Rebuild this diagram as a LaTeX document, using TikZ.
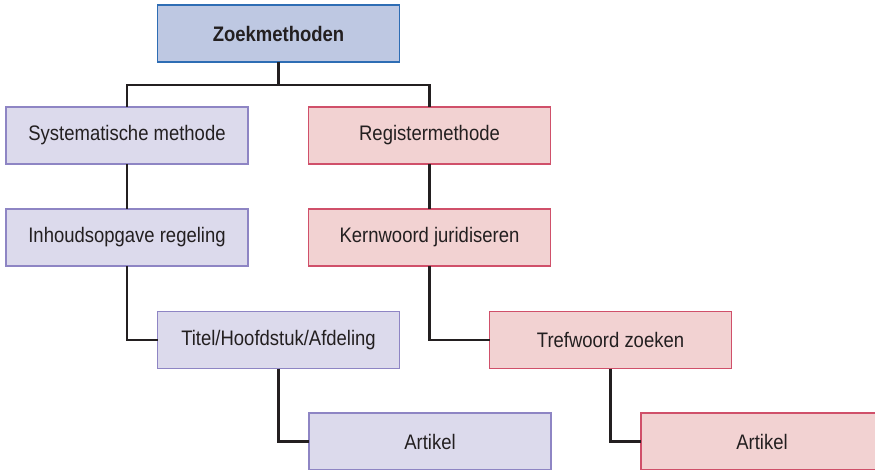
\documentclass[tikz,border=0pt]{standalone}
\usepackage{fontspec}
\setmainfont[FakeStretch=0.88]{Liberation Sans}
\usetikzlibrary{positioning}

\definecolor{inkGrey}{HTML}{231F20}
\definecolor{headFill}{HTML}{BEC8E2}
\definecolor{headLine}{HTML}{2E6DB4}
\definecolor{sysFill}{HTML}{DCDAEC}
\definecolor{sysLine}{HTML}{8E85C4}
\definecolor{regFill}{HTML}{F2D2D2}
\definecolor{regLine}{HTML}{D0506A}

\newcommand\boxWidth{242pt}
\newcommand\boxHeight{57pt}
\newcommand\leftCol{127}
\newcommand\midCol{278.5}
\newcommand\rightCol{429.5}
\newcommand\farCol{610.5}

\tikzset{
  box/.style={draw, line width=1.5pt, minimum width=\boxWidth, minimum height=\boxHeight,
    inner sep=0pt, outer sep=0pt, text=inkGrey, font=\fontsize{21}{25}\selectfont},
  headbox/.style={box, fill=headFill, draw=headLine, font=\fontsize{21}{25}\selectfont\bfseries},
  sysbox/.style={box, fill=sysFill, draw=sysLine},
  regbox/.style={box, fill=regFill, draw=regLine},
  link/.style={draw=inkGrey, line width=2.6pt}
}

\begin{document}
\begin{tikzpicture}[x=1pt, y=-1pt]

    \useasboundingbox (0,0) rectangle (875,470);

    % top of the tree
    \node[headbox] (zoek) at (\midCol,33.5) {Zoekmethoden};
    \coordinate (bus) at (\midCol,85);

    % left branch
    \node[sysbox] (systematisch) at (\leftCol,135.5) {Systematische methode};
    \node[sysbox] (inhoud) at (\leftCol,237.5) {Inhoudsopgave regeling};
    \node[sysbox] (titel) at (\midCol,340) {Titel/Hoofdstuk/Afdeling};
    \node[sysbox] (artikelSys) at (430,441.5) {Artikel};

    % right branch
    \node[regbox] (register) at (\rightCol,135.5) {Registermethode};
    \node[regbox] (kernwoord) at (\rightCol,237.5) {Kernwoord juridiseren};
    \node[regbox] (trefwoord) at (\farCol,340) {Trefwoord zoeken};
    \node[regbox] (artikelReg) at (762,441.5) {Artikel};

    \draw[link] (zoek) -- (bus);
    \draw[link] (bus) -| (systematisch);
    \draw[link] (bus) -| (register);

    \draw[link] (systematisch) -- (inhoud);
    \draw[link] (inhoud) |- (titel);
    \draw[link] (titel) |- (artikelSys);

    \draw[link] (register) -- (kernwoord);
    \draw[link] (kernwoord) |- (trefwoord);
    \draw[link] (trefwoord) |- (artikelReg);

\end{tikzpicture}
\end{document}
